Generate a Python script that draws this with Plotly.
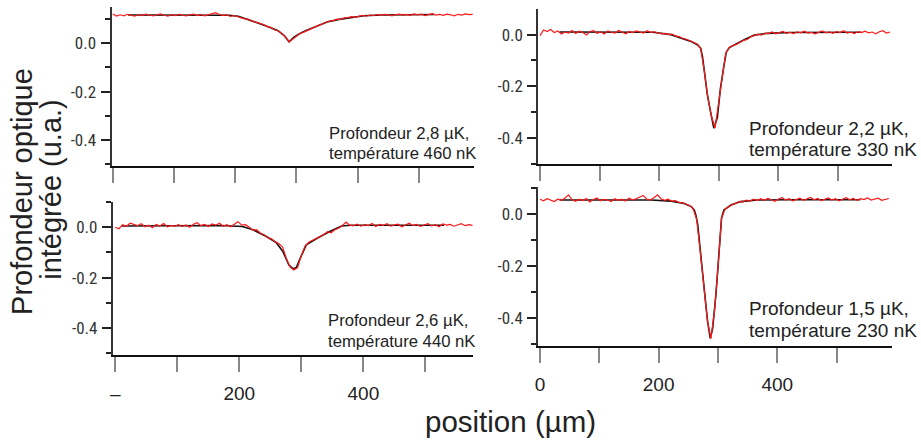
import plotly.graph_objects as go

W, H = 921, 442
STEP = 6  # sampling step of the measured profiles (µm)

# ---------------- data: top-left (Profondeur 2,8 µK, 460 nK) ----------------
tl_data = [.121,.113,.118,.114,.120,.116,.112,.119,.115,.121,
           .117,.113,.118,.122,.116,.112,.119,.115,.120,.117,
           .113,.118,.121,.115,.119,.114,.118,.124,.127,.119,
           .116,.118,.111,.115,.109,.105,.101,.099,.092,.088,
           .081,.078,.070,.066,.056,.052,.041,.026,.006,.018,
           .030,.040,.046,.053,.063,.067,.074,.080,.087,.092,
           .094,.100,.099,.105,.106,.110,.107,.113,.116,.112,
           .117,.115,.119,.116,.120,.118,.114,.119,.121,.117,
           .120,.116,.122,.118,.121,.115,.119,.123,.117,.120,
           .116,.121,.118,.114,.120,.117,.122,.119,.120]
tl_fit_x = [25,50,100,150,190,205,225,245,260,270,280,288,296,305,315,330,350,370,390,410,440,480,525]
tl_fit_y = [.117,.117,.117,.117,.116,.112,.096,.077,.062,.052,.032,.006,.025,.040,.052,.068,.088,.099,.108,.114,.117,.118,.119]

# ---------------- data: top-right (Profondeur 2,2 µK, 330 nK) ----------------
tr_data = [-.004,.018,.012,.020,.008,.014,.002,.010,.006,.016,
           .004,.013,.008,-.001,.012,.015,.005,.011,.002,.014,
           .009,.006,.016,.010,.003,.012,.008,.014,.010,.006,
           .015,.009,.011,.006,.003,.005,.000,.002,-.006,-.008,
           -.016,-.018,-.024,-.030,-.036,-.055,-.140,-.245,-.315,-.362,
           -.270,-.160,-.072,-.050,-.042,-.038,-.030,-.022,-.019,-.008,
           -.004,.002,-.002,.006,.004,.010,.003,.008,.012,.005,
           .009,.004,.011,.007,.013,.006,.009,.003,.010,.014,
           .007,.011,.005,.012,.008,.015,.006,.010,.004,.011,
           .008,.013,.007,.010,.003,.011,.015,.006,.010]
tr_fit_x = [33,100,150,190,220,240,255,265,270,273,276,281,287,292,298,303,309,313,318,326,343,360,382,420,480,540]
tr_fit_y = [.010,.010,.010,.009,.000,-.015,-.028,-.040,-.053,-.085,-.137,-.230,-.305,-.362,-.320,-.210,-.120,-.068,-.050,-.040,-.020,-.002,.005,.008,.009,.009]

# ---------------- data: bottom-left (Profondeur 2,6 µK, 440 nK) ----------------
bl_data = [.000,-.006,.010,.004,.016,.012,.006,.014,.002,.008,
           -.002,.011,.005,.015,.002,.007,.004,.010,.003,.009,
           .000,.012,.018,.006,.011,.003,.013,.008,.016,.004,
           .010,.002,.012,.022,.008,.010,.000,-.012,-.010,-.024,
           -.030,-.042,-.046,-.058,-.066,-.080,-.125,-.158,-.170,-.160,
           -.112,-.075,-.060,-.052,-.046,-.038,-.030,-.018,-.022,-.010,
           -.004,.006,.020,.008,.005,.012,.004,.010,.006,.015,
           .003,.011,.007,.014,.004,.009,.012,.002,.010,.016,
           .006,.011,.003,.009,.014,.005,.010,.002,.013,.008,
           .011,.004,.009,.014,.006,.010,.007]
bl_fit_x = [10,50,100,170,205,222,243,259,270,280,287,292,297,303,308,324,345,365,380,430,530]
bl_fit_y = [.005,.005,.006,.007,.003,-.010,-.036,-.060,-.095,-.150,-.165,-.160,-.130,-.095,-.070,-.046,-.018,.005,.008,.008,.008]

# ---------------- data: bottom-right (Profondeur 1,5 µK, 230 nK) ----------------
br_data = [.058,.052,.060,.055,.049,.058,.054,.062,.075,.057,
           .050,.058,.053,.061,.048,.057,.063,.052,.058,.055,
           .049,.060,.054,.058,.051,.062,.056,.060,.066,.073,
           .058,.055,.064,.075,.060,.054,.058,.050,.053,.046,
           .045,.040,.034,.022,-.018,-.140,-.275,-.405,-.478,-.375,
           -.205,-.015,.020,.030,.038,.042,.050,.047,.055,.051,
           .058,.053,.060,.054,.061,.056,.050,.059,.064,.055,
           .060,.052,.058,.062,.054,.059,.065,.056,.061,.053,
           .058,.063,.055,.060,.052,.059,.064,.056,.061,.054,
           .060,.057,.063,.055,.059,.062,.054,.058,.061]
br_fit_x = [33,100,150,187,221,243,255,260,263,266,271,277,282.5,287,291,296.5,302,306,310,322,338,366,420,540]
br_fit_y = [.055,.056,.056,.055,.051,.042,.030,.017,-.005,-.041,-.157,-.297,-.412,-.477,-.438,-.310,-.143,-.015,.017,.036,.049,.055,.056,.056]

labels = ["Profondeur 2,8 µK,|température 460 nK",
          "Profondeur 2,2 µK,|température 330 nK",
          "Profondeur 2,6 µK,|température 440 nK",
          "Profondeur 1,5 µK,|température 230 nK"]

y_major = [0.0, -0.2, -0.4]
y_major_text = ["0.0", "-0.2", "-0.4"]
y_minor = [0.1, -0.1, -0.3, -0.5]
x_ticks = [0, 100, 200, 300, 400, 500]
x_ticktext_bl = ["–", "", "200", "", "400", ""]
x_ticktext_br = ["0", "", "200", "", "400", ""]

# ---------------- layout geometry (pixels) ----------------
geom = [
    dict(xd=(108, 472), xr=[-2.1, 590], yd=(7.3, 165.7), yr=[-0.507, 0.149], lab=(328, 133, 153), fs=16.7),
    dict(xd=(536.7, 892), xr=[-2.7, 591.5], yd=(9.3, 164.3), yr=[-0.502, 0.098], lab=(750, 128, 149), fs=19),
    dict(xd=(109.3, 471), xr=[-3.9, 576.7], yd=(202, 355), yr=[-0.507, 0.100], lab=(327, 320, 341), fs=16.7),
    dict(xd=(536.7, 892), xr=[-2.7, 593.5], yd=(187.3, 345.7), yr=[-0.505, 0.104], lab=(750, 308, 330), fs=19),
]
series = [(tl_data, tl_fit_x, tl_fit_y), (tr_data, tr_fit_x, tr_fit_y),
          (bl_data, bl_fit_x, bl_fit_y), (br_data, br_fit_x, br_fit_y)]

NARROW = "Liberation Sans Narrow, Arial Narrow, Roboto Condensed, DejaVu Sans Condensed, sans-serif"
SANS = "Liberation Sans, Arial, Helvetica, sans-serif"

fig = go.Figure()
layout = dict(width=W, height=H, margin=dict(l=0, r=0, t=0, b=0),
              paper_bgcolor="white", plot_bgcolor="white", showlegend=False)
annotations = []

for i, (g, (data, fx, fy)) in enumerate(zip(geom, series)):
    n = i + 1
    xa = "x" if n == 1 else f"x{n}"
    ya = "y" if n == 1 else f"y{n}"
    xs = [k * STEP for k in range(len(data))]
    fig.add_trace(go.Scatter(x=fx, y=fy, mode="lines", xaxis=xa, yaxis=ya,
                             line=dict(color="#111111", width=1.6), hoverinfo="skip"))
    fig.add_trace(go.Scatter(x=xs, y=data, mode="lines", xaxis=xa, yaxis=ya,
                             line=dict(color="#ff1a1a", width=1.2), hoverinfo="skip"))
    bottom = i >= 2
    xaxis = dict(domain=[g["xd"][0] / W, g["xd"][1] / W], range=g["xr"], anchor=ya,
                 showline=True, linecolor="#111111", linewidth=2, showgrid=False, zeroline=False,
                 ticks="outside", ticklen=15, tickwidth=1.5, tickcolor="#888888",
                 tickmode="array", tickvals=x_ticks,
                 showticklabels=bottom, fixedrange=True)
    if bottom:
        xaxis.update(ticktext=(x_ticktext_bl if i == 2 else x_ticktext_br),
                     tickfont=dict(family=SANS, size=19, color="#222222"),
                     ticklabelstandoff=5)
    yaxis = dict(domain=[1 - g["yd"][1] / H, 1 - g["yd"][0] / H], range=g["yr"], anchor=xa,
                 showline=True, linecolor="#333333", linewidth=2, showgrid=False, zeroline=False,
                 ticks="outside", ticklen=9, tickwidth=2, tickcolor="#222222",
                 tickmode="array", tickvals=y_major, ticktext=y_major_text,
                 tickfont=dict(family=NARROW, size=17, color="#333333"),
                 ticklabelstandoff=1,
                 minor=dict(tickmode="array", tickvals=y_minor,
                            ticks="outside", ticklen=5, tickwidth=2, tickcolor="#222222"),
                 fixedrange=True)
    layout["xaxis" if n == 1 else f"xaxis{n}"] = xaxis
    layout["yaxis" if n == 1 else f"yaxis{n}"] = yaxis
    l1, l2 = labels[i].split("|")
    lx, ly1, ly2 = g["lab"]
    for txt, yy in ((l1, ly1), (l2, ly2)):
        annotations.append(dict(text=txt, xref="paper", yref="paper", x=(lx - 4) / W, y=1 - yy / H,
                                xanchor="left", yanchor="middle", showarrow=False,
                                font=dict(family=SANS, size=g["fs"], color="#222222")))

annotations.append(dict(text="Profondeur optique", xref="paper", yref="paper", x=18 / W, y=1 - 191 / H,
                        textangle=-90, xanchor="center", yanchor="middle", showarrow=False,
                        font=dict(family=SANS, size=29, color="#222222")))
annotations.append(dict(text="intégrée (u.a.)", xref="paper", yref="paper", x=47 / W, y=1 - 189 / H,
                        textangle=-90, xanchor="center", yanchor="middle", showarrow=False,
                        font=dict(family=SANS, size=29, color="#222222")))
annotations.append(dict(text="position (µm)", xref="paper", yref="paper", x=509 / W, y=1 - 421 / H,
                        xanchor="center", yanchor="middle", showarrow=False,
                        font=dict(family=SANS, size=29.5, color="#222222")))
layout["annotations"] = annotations
fig.update_layout(**layout)
fig.write_html("out.html", config={"displayModeBar": False},
               post_script="document.body.style.margin='0';document.body.style.overflow='hidden';")
